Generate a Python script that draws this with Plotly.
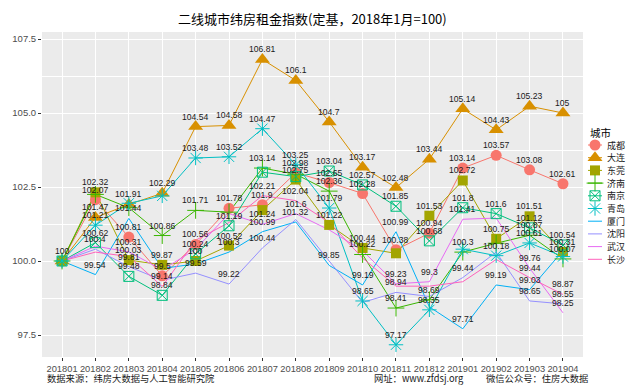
import plotly.graph_objects as go

months = ["201801", "201802", "201803", "201804", "201805", "201806", "201807", "201808",
          "201809", "201810", "201811", "201812", "201901", "201902", "201903", "201904"]
cities = ["成都", "大连", "东莞", "济南", "南京", "青岛", "厦门", "沈阳", "武汉", "长沙"]

chengdu = [100, 102.07, 100.81, 99.5, 100.56, 101.78, 101.9, 102.98, 102.65, 102.28, 100.38, 100.94, 103.14, 103.57, 103.08, 102.61]
dalian = [100, 101.47, 101.91, 102.29, 104.54, 104.58, 106.81, 106.1, 104.7, 103.17, 102.48, 103.44, 105.14, 104.43, 105.23, 105]
dongguan = [100, 102.32, 100.03, 99.87, 100, 100.52, 101.72, 102.75, 101.22, 100.44, 100.26, 101.53, 102.72, 100.75, 101.51, 100.31]
jinan = [100, 102.25, 101.8, 100.86, 101.71, 101.65, 103.14, 102.93, 102.36, 100.22, 98.41, 98.69, 100.3, 100.6, 100.87, 100.07]
nanjing = [100, 100.62, 99.48, 98.84, 100.24, 101.19, 103.0, 102.85, 103.04, 102.57, 101.85, 100.68, 101.8, 101.6, 101.12, 100.54]
qingdao = [100, 101.21, 101.95, 102.2, 103.48, 103.52, 104.47, 103.25, 101.79, 98.65, 97.17, 98.35, 100.4, 100.18, 100.61, 100.15]
xiamen = [100, 99.54, 101.44, 99.75, 99.9, 100.3, 100.99, 101.32, 99.85, 99.19, 100.99, 98.45, 97.71, 99.19, 99.03, 100.35]
shenyang = [100, 100.4, 99.81, 99.35, 99.59, 99.22, 100.44, 101.4, 100.0, 98.6, 98.94, 98.8, 99.44, 100.3, 98.65, 98.55]
wuhan = [100, 100.5, 100.31, 99.7, 100.4, 101.6, 101.24, 101.6, 101.05, 100.35, 99.23, 99.3, 101.41, 101.45, 99.76, 98.25]
changsha = [100, 100.3, 100.15, 99.14, 100.7, 101.3, 102.21, 102.04, 101.3, 100.1, 99.15, 99.15, 99.3, 100.05, 99.44, 98.87]

series = [chengdu, dalian, dongguan, jinan, nanjing, qingdao, xiamen, shenyang, wuhan, changsha]
colors = ["#F8766D", "#D89000", "#A3A500", "#39B600", "#00BF7D",
          "#00BFC4", "#00B0F6", "#9590FF", "#E76BF3", "#FF62BC"]
symbols = ["circle", "triangle-up", "square", "cross-thin-open", "square-x-open",
           "asterisk-open", None, None, None, None]
msizes = [11, 13, 10, 12, 10, 12, 0, 0, 0, 0]

ytick_vals = [97.5, 100, 102.5, 105, 107.5]
ytick_text = ["97.5", "100.0", "102.5", "105.0", "107.5"]

W, H = 641, 391
L, R, T, B = 42, 0, 32, 34
pw, ph = W - L - R, H - T - B


def px(x):
    return (x - L) / pw


def py(y):
    return 1 - (y - T) / ph


NUM = "Liberation Sans, Arial, sans-serif"
CJK = "Noto Sans CJK SC, sans-serif"

fig = go.Figure()

# lines first (like geom_line), then points
for i, c in enumerate(cities):
    fig.add_trace(go.Scatter(x=months, y=series[i], mode="lines", name=c,
                             line=dict(color=colors[i], width=1),
                             showlegend=False, hoverinfo="skip"))
for i, c in enumerate(cities):
    if symbols[i]:
        is_open = symbols[i].endswith("open")
        fig.add_trace(go.Scatter(
            x=months, y=series[i], mode="markers", name=c,
            marker=dict(symbol=symbols[i], size=msizes[i], color=colors[i],
                        line=dict(color=colors[i], width=1 if is_open else 0)),
            showlegend=False, hoverinfo="skip"))

annotations = []
# value labels, skipping ones that would overlap already drawn labels
for m, mon in enumerate(months):
    drawn = []
    for i in range(len(cities)):
        v = series[i][m]
        if all(abs(v - d) >= 0.195 for d in drawn):
            drawn.append(v)
            annotations.append(dict(x=m, y=v, xref="x", yref="y", text=f"{v:g}",
                                    showarrow=False, yshift=10,
                                    font=dict(size=8.6, color="#1a1a1a", family=NUM)))

# manual legend on a pixel-scaled helper axis
ly0, ldy = 145, 12.7
for i, c in enumerate(cities):
    y = ly0 + ldy * i
    fig.add_trace(go.Scatter(x=[588, 602], y=[y, y], xaxis="x2", yaxis="y2", mode="lines",
                             line=dict(color=colors[i], width=1), showlegend=False,
                             hoverinfo="skip"))
    if symbols[i]:
        is_open = symbols[i].endswith("open")
        fig.add_trace(go.Scatter(
            x=[595], y=[y], xaxis="x2", yaxis="y2", mode="markers",
            marker=dict(symbol=symbols[i], size=msizes[i], color=colors[i],
                        line=dict(color=colors[i], width=1 if is_open else 0)),
            showlegend=False, hoverinfo="skip"))
    annotations.append(dict(x=px(605), y=py(y), xref="paper", yref="paper", text=c,
                            xanchor="left", yanchor="middle", showarrow=False,
                            font=dict(size=9, color="#1a1a1a", family=CJK)))
annotations.append(dict(x=px(588), y=py(132), xref="paper", yref="paper", text="城市",
                        xanchor="left", yanchor="middle", showarrow=False,
                        font=dict(size=10.5, color="#000000", family=CJK)))

# title and captions
annotations.append(dict(x=0.5, y=py(19), xref="x domain", yref="paper",
                        text="二线城市纬房租金指数(定基，2018年1月=100)",
                        showarrow=False, xanchor="center", yanchor="middle",
                        font=dict(size=13, color="#000000", family=CJK)))
annotations.append(dict(x=px(45), y=py(378), xref="paper", yref="paper",
                        text="数据来源：纬房大数据与人工智能研究院", xanchor="left",
                        yanchor="middle", showarrow=False,
                        font=dict(size=9.3, color="#1a1a1a", family=CJK)))
annotations.append(dict(x=px(372), y=py(378), xref="paper", yref="paper",
                        text="网址：www.zfdsj.org", xanchor="left",
                        yanchor="middle", showarrow=False,
                        font=dict(size=9.3, color="#1a1a1a", family=CJK)))
annotations.append(dict(x=px(484), y=py(378), xref="paper", yref="paper",
                        text="微信公众号：住房大数据", xanchor="left",
                        yanchor="middle", showarrow=False,
                        font=dict(size=9.3, color="#1a1a1a", family=CJK)))

main_end = (583 - L) / pw
leg_start = (585 - L) / pw
ymin = 100 - (357 - 261) / 29.6
ymax = 100 + (261 - 32) / 29.6

fig.update_layout(
    width=W, height=H,
    margin=dict(l=L, r=R, t=T, b=B, pad=0),
    paper_bgcolor="white", plot_bgcolor="white",
    showlegend=False,
    annotations=annotations,
    shapes=[dict(type="rect", xref="x domain", yref="y domain", x0=0, x1=1, y0=0, y1=1,
                 fillcolor="#EBEBEB", line=dict(width=0), layer="below")],
    xaxis=dict(domain=[0, main_end], type="category", range=[-0.6, 15.6],
               showgrid=True, gridcolor="white", gridwidth=1.1, zeroline=False,
               showline=False, ticks="outside", ticklen=3, tickwidth=1,
               tickcolor="#333333", tickfont=dict(size=9.3, color="#4D4D4D", family=NUM),
               fixedrange=True),
    yaxis=dict(domain=[0, 1], range=[ymin, ymax], tickvals=ytick_vals, ticktext=ytick_text,
               showgrid=True, gridcolor="white", gridwidth=1.1, zeroline=False,
               showline=False, ticks="outside", ticklen=3, tickwidth=1,
               tickcolor="#333333", tickfont=dict(size=9.5, color="#4D4D4D", family=NUM),
               minor=dict(dtick=1.25, tick0=97.5, showgrid=True, gridcolor="white",
                          gridwidth=0.5),
               fixedrange=True),
    xaxis2=dict(domain=[leg_start, 1], range=[585, 641], anchor="y2", showgrid=False,
                zeroline=False, showline=False, showticklabels=False, ticks=""),
    yaxis2=dict(domain=[0, 1], range=[357, 32], anchor="x2", showgrid=False,
                zeroline=False, showline=False, showticklabels=False, ticks=""),
)

fig.write_html("out.html", config={"displayModeBar": False},
               post_script="document.body.style.margin='0';document.body.style.padding='0';")
